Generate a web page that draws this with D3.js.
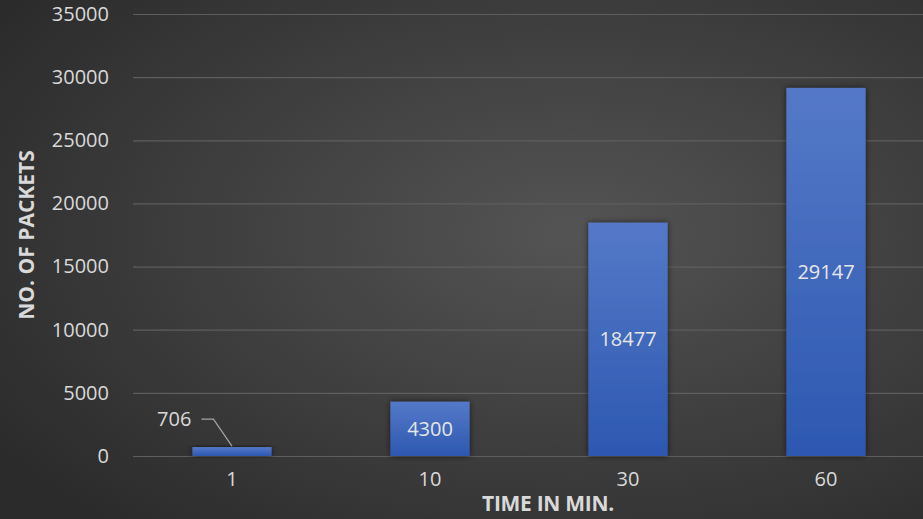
<!DOCTYPE html>
<html>
<head>
<meta charset="utf-8">
<script src="https://cdn.jsdelivr.net/npm/d3@7"></script>
<style>
  html, body { margin: 0; padding: 0; background: #333; overflow: hidden; }
  svg { display: block; }
  text { font-family: "Open Sans", "Liberation Sans", sans-serif; }
</style>
</head>
<body>
<div id="chart"></div>
<script>
const categories = ['1', '10', '30', '60'];
const packets = [706, 4300, 18477, 29147];
const yTicks = [0, 5000, 10000, 15000, 20000, 25000, 30000, 35000];
const xTitle = 'TIME IN MIN.';
const yTitle = 'NO. OF PACKETS';

const width = 923;
const height = 519;
const margin = { top: 14, right: -2, bottom: 63, left: 133 };
const innerWidth = width - margin.left - margin.right;
const innerHeight = height - margin.top - margin.bottom;

const svg = d3.select('#chart')
  .append('svg')
  .attr('width', width)
  .attr('height', height);

const defs = svg.append('defs');

// dark radial background
const bg = defs.append('radialGradient')
  .attr('id', 'bg')
  .attr('cx', '62%').attr('cy', '45%').attr('r', '75%');
bg.append('stop').attr('offset', '0%').attr('stop-color', '#545454');
bg.append('stop').attr('offset', '100%').attr('stop-color', '#2b2b2b');

const barGrad = defs.append('linearGradient')
  .attr('id', 'barGrad')
  .attr('x1', 0).attr('y1', 0).attr('x2', 0).attr('y2', 1);
barGrad.append('stop').attr('offset', '0%').attr('stop-color', '#5479c8');
barGrad.append('stop').attr('offset', '100%').attr('stop-color', '#2d58b0');

const shadow = defs.append('filter').attr('id', 'shadow')
  .attr('x', '-20%').attr('y', '-20%').attr('width', '140%').attr('height', '140%');
shadow.append('feDropShadow')
  .attr('dx', 0).attr('dy', 0).attr('stdDeviation', 3)
  .attr('flood-color', '#000').attr('flood-opacity', 0.6);

svg.append('rect')
  .attr('width', width).attr('height', height)
  .attr('fill', 'url(#bg)');

const chart = svg.append('g')
  .attr('transform', 'translate(' + margin.left + ', ' + margin.top + ')');

const x = d3.scaleBand()
  .domain(categories)
  .range([0, innerWidth])
  .paddingInner(0.6)
  .paddingOuter(0.3);

const y = d3.scaleLinear()
  .domain([0, 35000])
  .range([innerHeight, 0]);

// gridlines + y tick labels
const yAxis = d3.axisLeft(y)
  .tickValues(yTicks)
  .tickSize(-innerWidth)
  .tickPadding(24)
  .tickFormat(d3.format('d'));

const yg = chart.append('g').attr('class', 'y axis').call(yAxis);
yg.select('.domain').remove();
yg.selectAll('.tick line').attr('stroke', '#5e5e5e').attr('stroke-width', 1.2);
yg.selectAll('.tick text')
  .attr('fill', '#d9d9d9')
  .style('font-size', '20px');

// x labels
const xAxis = d3.axisBottom(x).tickSize(0).tickPadding(16);
const xg = chart.append('g')
  .attr('class', 'x axis')
  .attr('transform', 'translate(0, ' + innerHeight + ')')
  .call(xAxis);
xg.select('.domain').remove();
xg.selectAll('.tick text')
  .attr('fill', '#d9d9d9')
  .style('font-size', '20px');

// bars
chart.selectAll('rect.bar')
  .data(packets)
  .enter().append('rect')
  .attr('class', 'bar')
  .attr('x', (d, i) => x(categories[i]))
  .attr('y', (d) => y(d))
  .attr('width', x.bandwidth())
  .attr('height', (d) => innerHeight - y(d))
  .attr('fill', 'url(#barGrad)')
  .attr('filter', 'url(#shadow)');

// data labels
packets.forEach((d, i) => {
  const cx = x(categories[i]) + x.bandwidth() / 2;
  const barH = innerHeight - y(d);
  if (barH > 30) {
    chart.append('text')
      .attr('x', cx)
      .attr('y', y(d / 2))
      .attr('dy', '0.35em')
      .attr('text-anchor', 'middle')
      .attr('fill', '#e6e6e6')
      .style('font-size', '20px')
      .text(d);
  } else {
    // label placed above-left with leader line
    const lx = x(categories[i]) - 1;
    const ly = y(d) - 28;
    chart.append('text')
      .attr('x', lx)
      .attr('y', ly)
      .attr('dy', '0.35em')
      .attr('text-anchor', 'end')
      .attr('fill', '#d9d9d9')
      .style('font-size', '20px')
      .text(d);
    chart.append('path')
      .attr('d', 'M' + (lx + 10) + ',' + ly + 'H' + (lx + 22) + 'L' + cx + ',' + (y(d) - 1))
      .attr('fill', 'none')
      .attr('stroke', '#a6a6a6')
      .attr('stroke-width', 1.2);
  }
});

// axis titles
svg.append('text')
  .attr('x', 548)
  .attr('y', 511)
  .attr('text-anchor', 'middle')
  .attr('fill', '#d9d9d9')
  .style('font-size', '21px')
  .style('font-weight', 'bold')
  .style('letter-spacing', '-0.3px')
  .text(xTitle);

svg.append('text')
  .attr('transform', 'translate(34, 235) rotate(-90)')
  .attr('text-anchor', 'middle')
  .attr('fill', '#d9d9d9')
  .style('font-size', '21px')
  .style('font-weight', 'bold')
  .text(yTitle);
</script>
</body>
</html>
